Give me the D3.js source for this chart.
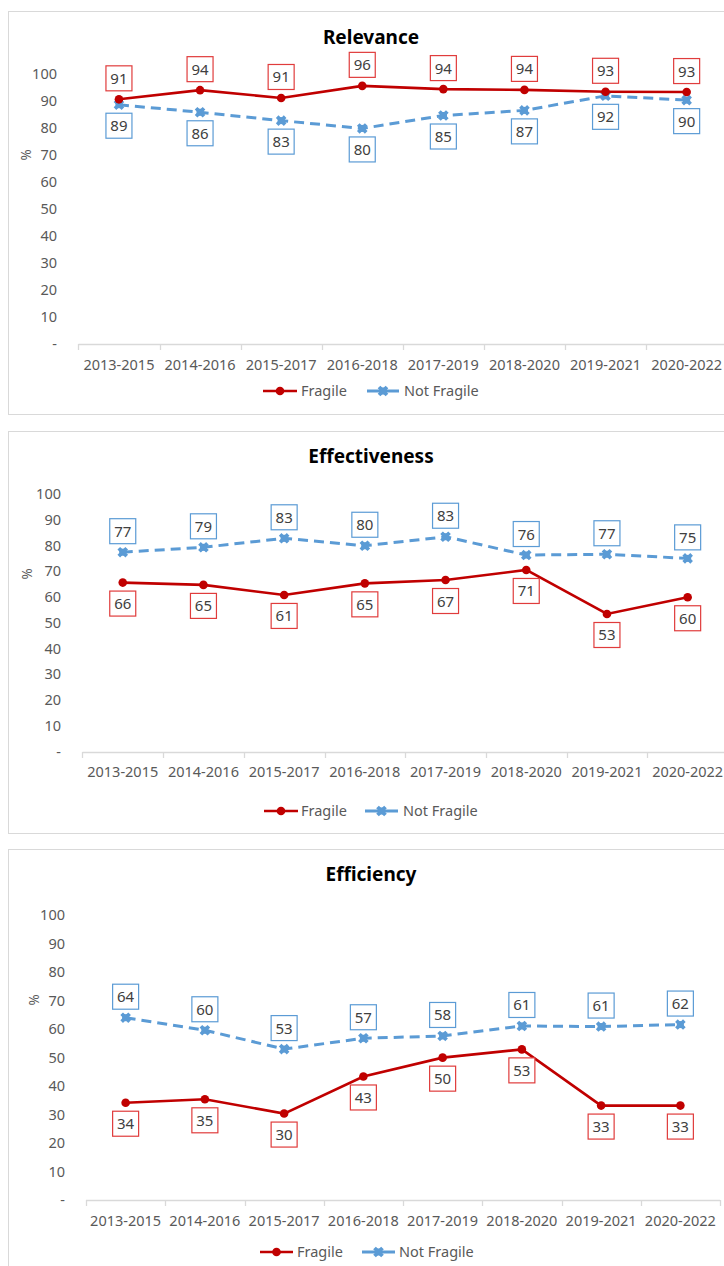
<!DOCTYPE html>
<html><head><meta charset="utf-8">
<script src="https://cdn.jsdelivr.net/npm/d3@7"></script>
<style>
html,body{margin:0;padding:0;background:#fff;}
svg{display:block;}
text{font-family:"Noto Sans",sans-serif;}
</style></head>
<body>
<svg id="c" width="724" height="1266"></svg>
<script>
// ---- data ----
const categories = ["2013-2015","2014-2016","2015-2017","2016-2018","2017-2019","2018-2020","2019-2021","2020-2022"];
const yTicks = [0,10,20,30,40,50,60,70,80,90,100];
const seriesNames = ["Fragile","Not Fragile"];
const relevanceFragile    = [90.6, 94.0, 91.1, 95.6, 94.4, 94.1, 93.4, 93.3];
const relevanceNotFragile = [88.6, 85.8, 82.7, 79.8, 84.6, 86.5, 91.9, 90.3];
const effectivenessFragile    = [65.6, 64.7, 60.8, 65.3, 66.6, 70.5, 53.4, 59.9];
const effectivenessNotFragile = [77.4, 79.3, 82.8, 79.9, 83.4, 76.3, 76.6, 75.0];
const efficiencyFragile    = [34.2, 35.4, 30.4, 43.4, 50.0, 52.9, 33.2, 33.2];
const efficiencyNotFragile = [64.0, 59.6, 53.0, 56.8, 57.6, 61.1, 60.9, 61.6];

// ---- layout (positions/styles) ----
const panels = [
  {title:"Relevance", fr:relevanceFragile, nf:relevanceNotFragile, fragAbove:true,
   box:[8,11,740,403], titleY:44, y0:343.5, y100:74, x0:78.4, x1:727.2, yLabX:57, xLabY:370,
   pctX:27, pctY:155, legY:391, legA:[263,297,301], legB:[367,399,404]},
  {title:"Effectiveness", fr:effectivenessFragile, nf:effectivenessNotFragile, fragAbove:false,
   box:[8,431,740,402], titleY:463, y0:751.5, y100:494, x0:82.4, x1:728, yLabX:61, xLabY:777,
   pctX:28, pctY:574, legY:811, legA:[264,298,301], legB:[365,398,403]},
  {title:"Efficiency", fr:efficiencyFragile, nf:efficiencyNotFragile, fragAbove:false,
   box:[8,849,740,440], titleY:881, y0:1200.3, y100:915, x0:86, x1:720, yLabX:65, xLabY:1226,
   pctX:35, pctY:1000, legY:1252, legA:[260,293,297], legB:[362,395,399]}
];
const red = "#c00000", redBox = "#e03c3c", blue = "#5b9bd5", grey = "#595959", lblc = "#404040", axisc = "#d9d9d9";

const svg = d3.select("#c");
svg.append("rect").attr("width",724).attr("height",1266).attr("fill","#fff");

function blueMarker(g, x, y){
  g.append("rect").attr("x",x-3.5).attr("y",y-3.5).attr("width",7).attr("height",7).attr("fill",blue);
  g.append("path").attr("d", d3.symbol(d3.symbolCross, 70)())
    .attr("transform",`translate(${x},${y}) rotate(45)`).attr("fill",blue);
}

panels.forEach(p => {
  const g = svg.append("g");
  g.append("rect").attr("x",p.box[0]+0.5).attr("y",p.box[1]+0.5).attr("width",p.box[2]).attr("height",p.box[3])
    .attr("fill","#fff").attr("stroke",axisc).attr("stroke-width",1);
  g.append("text").attr("x",371).attr("y",p.titleY).attr("text-anchor","middle")
    .attr("font-weight","bold").attr("font-size",19).attr("fill","#000").text(p.title);

  const x = d3.scaleBand().domain(categories).range([p.x0,p.x1]);
  const y = d3.scaleLinear().domain([0,100]).range([p.y0,p.y100]);
  const cx = c => x(c) + x.bandwidth()/2;

  // y tick labels
  g.selectAll(".yt").data(yTicks).join("text")
    .attr("x",p.yLabX).attr("y",d=>y(d)+5).attr("text-anchor","end")
    .attr("font-size",14.5).attr("fill",grey).text(d=>d===0?"-":d);
  g.append("text").attr("transform",`translate(${p.pctX+4},${p.pctY}) rotate(-90)`)
    .attr("text-anchor","middle").attr("font-size",13.5).attr("fill",grey).text("%");

  // x axis
  const ax = g.append("g").attr("transform",`translate(0,${Math.round(p.y0)+0.5})`)
    .call(d3.axisBottom(x).tickSize(0).tickFormat(""));
  ax.select(".domain").attr("stroke",axisc).attr("stroke-width",1.5).attr("d",`M${p.x0},0H${p.x1}`);
  const bounds = categories.map(c=>x(c)).concat([p.x1]);
  g.selectAll(".xtk").data(bounds).join("line")
    .attr("x1",d=>Math.round(d)+0.5).attr("x2",d=>Math.round(d)+0.5)
    .attr("y1",Math.round(p.y0)).attr("y2",Math.round(p.y0)+6).attr("stroke",axisc).attr("stroke-width",1.3);
  g.selectAll(".xl").data(categories).join("text")
    .attr("x",d=>cx(d)).attr("y",p.xLabY).attr("text-anchor","middle")
    .attr("font-size",14.5).attr("fill",grey).text(d=>d);

  const line = d3.line().x((d,i)=>cx(categories[i])).y(d=>y(d));
  // not fragile
  g.append("path").attr("d",line(p.nf)).attr("fill","none").attr("stroke",blue)
    .attr("stroke-width",3).attr("stroke-dasharray","10,6");
  p.nf.forEach((v,i)=>blueMarker(g, cx(categories[i]), y(v)));
  // fragile
  g.append("path").attr("d",line(p.fr)).attr("fill","none").attr("stroke",red).attr("stroke-width",2.6);
  g.selectAll(".fp").data(p.fr).join("circle")
    .attr("cx",(d,i)=>cx(categories[i])).attr("cy",d=>y(d)).attr("r",4.3).attr("fill",red);

  // data labels
  function labels(vals, above, stroke){
    vals.forEach((v,i)=>{
      const lx = cx(categories[i]), ly = y(v) + (above ? -21 : 21);
      g.append("rect").attr("x",lx-13).attr("y",ly-12.5).attr("width",26).attr("height",25)
        .attr("fill","#fff").attr("stroke",stroke).attr("stroke-width",1.2);
      g.append("text").attr("x",lx).attr("y",ly+5.5).attr("text-anchor","middle")
        .attr("font-size",15).attr("fill",lblc).text(Math.round(v));
    });
  }
  labels(p.fr, p.fragAbove, redBox);
  labels(p.nf, !p.fragAbove, blue);

  // legend
  const lg = g.append("g");
  lg.append("line").attr("x1",p.legA[0]).attr("x2",p.legA[1]).attr("y1",p.legY).attr("y2",p.legY)
    .attr("stroke",red).attr("stroke-width",2.6);
  lg.append("circle").attr("cx",(p.legA[0]+p.legA[1])/2).attr("cy",p.legY).attr("r",4.3).attr("fill",red);
  lg.append("text").attr("x",p.legA[2]).attr("y",p.legY+5).attr("font-size",14.5).attr("fill",grey).text(seriesNames[0]);
  lg.append("line").attr("x1",p.legB[0]).attr("x2",p.legB[1]).attr("y1",p.legY).attr("y2",p.legY)
    .attr("stroke",blue).attr("stroke-width",3);
  blueMarker(lg,(p.legB[0]+p.legB[1])/2,p.legY);
  lg.append("text").attr("x",p.legB[2]).attr("y",p.legY+5).attr("font-size",14.5).attr("fill",grey).text(seriesNames[1]);
});
</script>
</body></html>
